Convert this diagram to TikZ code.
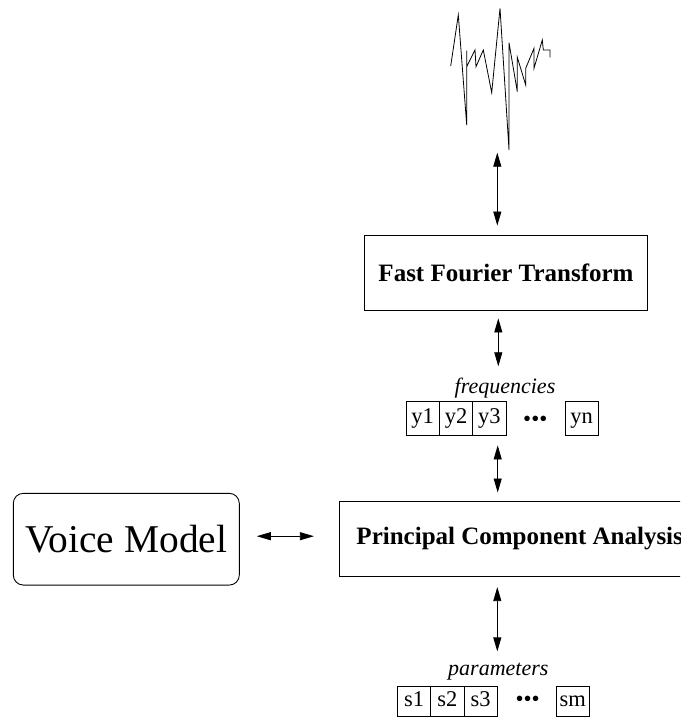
\documentclass[tikz,border=0pt]{standalone}
\usepackage{fontspec}
\setmainfont{Liberation Serif}
\usetikzlibrary{arrows.meta}
\begin{document}
\begin{tikzpicture}[x=1pt,y=-1pt,
  box/.style={draw, line width=0.9pt, inner sep=0pt},
  stage/.style={box, font=\fontsize{25}{30}\selectfont\bfseries},
  cell/.style={box, minimum width=33.3pt, font=\fontsize{22.5}{26}\selectfont,
    text height=15pt, text depth=4.5pt},
  caption/.style={anchor=base, inner sep=0pt, font=\fontsize{22}{26}\selectfont\itshape},
  dotsnode/.style={inner sep=0pt, font=\fontsize{23}{26}\selectfont},
  tip/.style={Triangle[length=14pt,width=8pt]},
  biarrow/.style={{Triangle[length=14pt,width=8pt]}-{Triangle[length=14pt,width=8pt]},
    line width=0.8pt},
]
\useasboundingbox (0,0) rectangle (680,719);
\clip (0,0) rectangle (680,719);

% speech signal
\draw[line width=0.8pt, line join=miter]
  (450.7,66) -- (458.3,15) -- (466.7,125) -- (466.7,50.7) -- (466.7,66.7)
  -- (475,50) -- (476,66.7) -- (483.3,50) -- (491.7,92.7) -- (500,8.3)
  -- (509,150) -- (509,42.7) -- (517.3,91.7) -- (517.3,57.3) -- (525.7,85)
  -- (525.7,68.3) -- (534,48.3) -- (534,68.3) -- (542.3,40) -- (543.3,50)
  -- (550,50) -- (550,57.3);
\coordinate (wave) at (497.3,152.7);

% processing stages
\node[stage, minimum width=283.4pt, minimum height=75pt] (fft) at (506,272.5)
  {\raisebox{-3pt}{Fast Fourier Transform}};
\node[stage, minimum width=360.7pt, minimum height=75.7pt] (pca) at (519.7,538.8)
  {Principal Component Analysis};
\node[box, rounded corners=10pt, minimum width=226pt, minimum height=91.7pt,
  font=\fontsize{39.4}{46}\selectfont] (voice) at (126.3,539.2) {Voice Model};

% frequency vector
\node[caption] (freq) at (505,393) {frequencies};
\node[cell, minimum height=33.3pt] (y1) at (422.7,418.3) {y1};
\node[cell, minimum height=33.3pt] (y2) at (456,418.3) {y2};
\node[cell, minimum height=33.3pt] (y3) at (489.3,418.3) {y3};
\node[dotsnode] (ydots) at (535.3,421) {•••};
\node[cell, minimum height=33.3pt] (yn) at (581.7,418.3) {yn};

% parameter vector
\node[caption] (param) at (498.3,675) {parameters};
\node[cell, minimum height=30pt] (s1) at (414,701) {s1};
\node[cell, minimum height=30pt] (s2) at (447.3,701) {s2};
\node[cell, minimum height=30pt] (s3) at (480.7,701) {s3};
\node[dotsnode] (sdots) at (527.7,701) {•••};
\node[cell, minimum height=30pt] (sm) at (572.7,701) {sm};

% connectors
\draw[biarrow, shorten >=9pt] (wave) -- (wave |- fft.north);
\draw[biarrow, shorten <=8pt, shorten >=11pt] (fft.south -| 498.3,0) -- (freq.north -| 498.3,0);
\draw[biarrow, shorten <=10pt, shorten >=8pt] (y3.south -| 497.7,0) -- (pca.north -| 497.7,0);
\draw[biarrow, shorten <=10pt, shorten >=11pt] (pca.south -| 497.3,0) -- (param.north -| 497.3,0);
\draw[biarrow, shorten <=17pt, shorten >=25pt] ([yshift=3pt]voice.east) -- ([yshift=3pt]voice.east -| pca.west);
\end{tikzpicture}
\end{document}
